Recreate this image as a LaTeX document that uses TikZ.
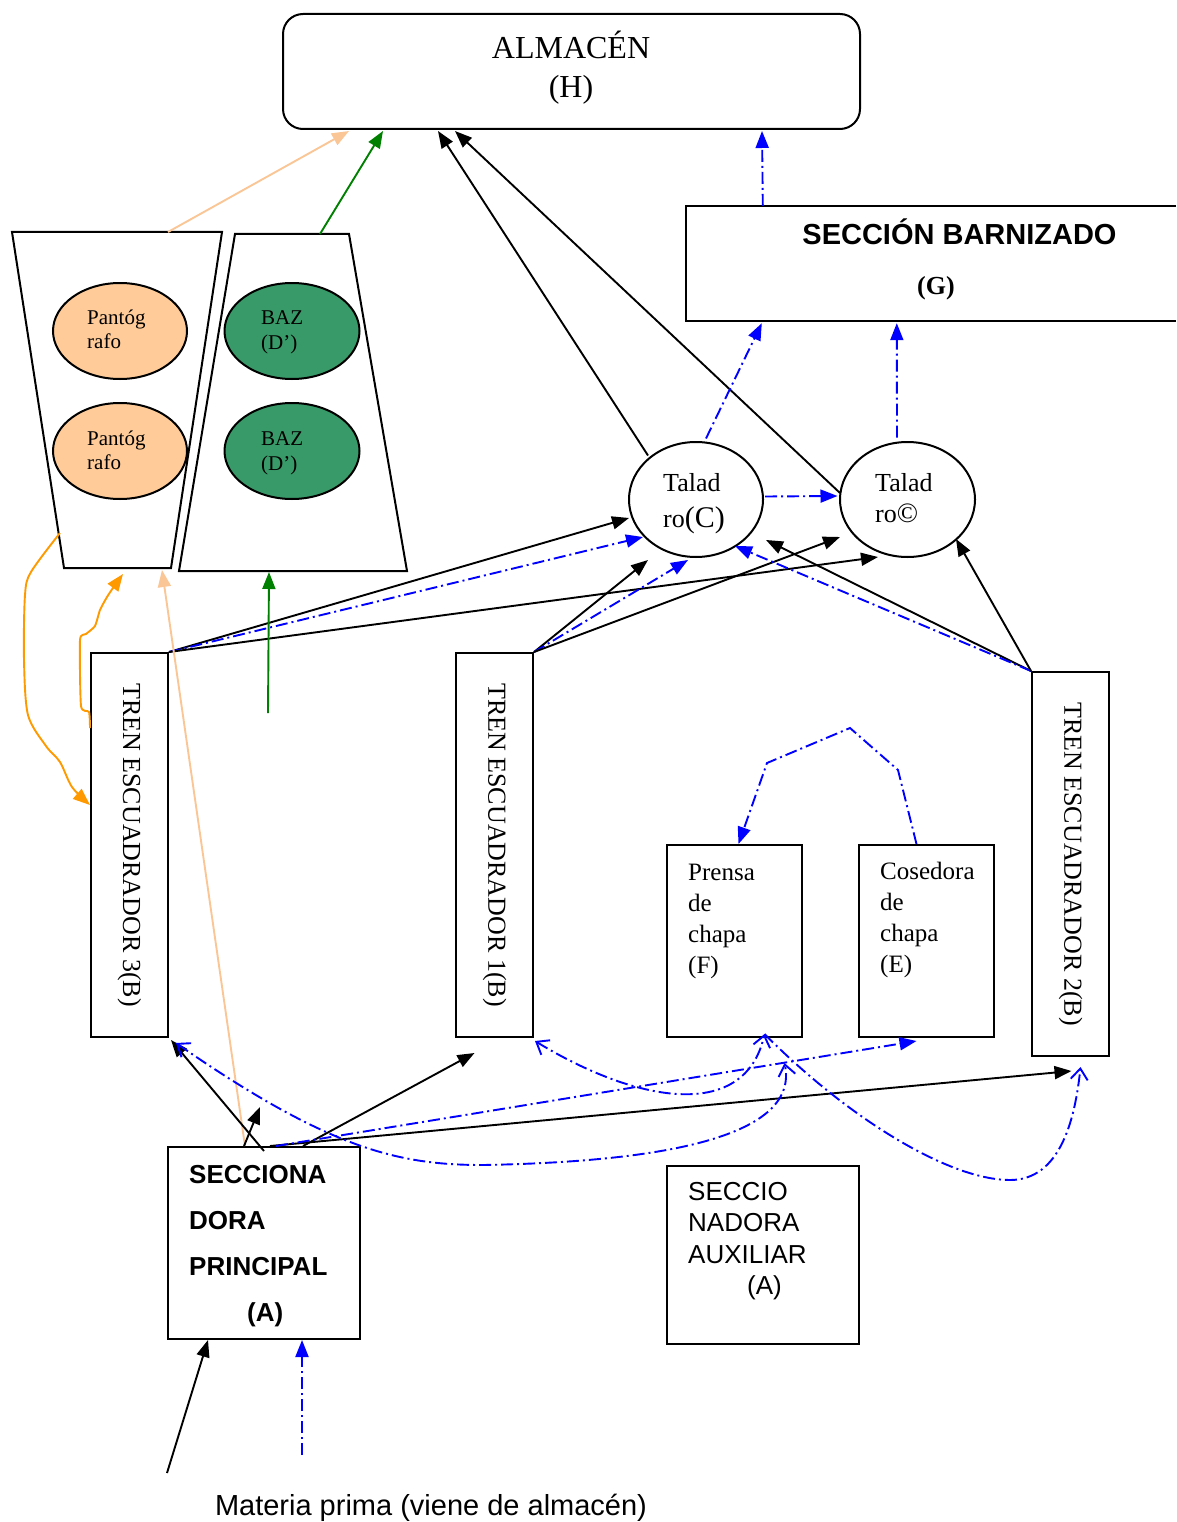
\documentclass[tikz,border=0pt]{standalone}
\usepackage{fontspec}
\setmainfont{Liberation Serif}
\setsansfont{Liberation Sans}
\usetikzlibrary{arrows.meta,calc,shapes.geometric}
\definecolor{peach}{RGB}{250,198,150}
\definecolor{pfill}{RGB}{255,204,153}
\definecolor{orng}{RGB}{255,153,0}
\definecolor{grn}{RGB}{0,128,0}
\definecolor{bazfill}{RGB}{56,154,104}
\definecolor{blu}{RGB}{0,0,255}
\begin{document}
\begin{tikzpicture}[x=1pt,y=-1pt,
  box/.style={draw,line width=2pt,inner sep=0pt},
  ell/.style={draw,ellipse,line width=2pt,inner sep=0pt},
  tip/.style={-{Triangle[length=17pt,width=13pt]}},
  conn/.style={line width=1.9pt,tip},
  pconn/.style={line width=1.9pt,peach,tip},
  gconn/.style={line width=1.9pt,grn,tip},
  oconn/.style={line width=1.9pt,orng,tip},
  bdash/.style={line width=1.9pt,blu,dash pattern=on 12pt off 4pt on 2pt off 4pt},
  bconn/.style={bdash,tip},
  bopen/.style={bdash,-{Straight Barb[length=11pt,width=17pt]}},
  bopentwo/.style={bdash,{Straight Barb[length=11pt,width=17pt]}-{Straight Barb[length=11pt,width=17pt]}},
  lbl/.style={inner sep=0pt,align=left,anchor=base west}
]
\useasboundingbox (0,0) rectangle (1176,1522);

% ---------- ALMACEN ----------
\node[box,rounded corners=20pt,minimum width=577pt,minimum height=115pt] (H) at (571.5,71.5) {};
\node[inner sep=0pt,anchor=base,font=\fontsize{32}{38}\selectfont] (Ht1) at (571,59) {ALMACÉN};
\node[inner sep=0pt,anchor=base,font=\fontsize{32}{38}\selectfont] (Ht2) at (571,98) {(H)};

% ---------- SECCION BARNIZADO ----------
\node[inner sep=0pt,minimum width=490pt,minimum height=115pt] (G) at (931,263.5) {};
\draw[line width=2pt] (G.north east) -- (G.north west) -- (G.south west) -- (G.south east);
\node[inner sep=0pt,anchor=base,font=\sffamily\bfseries\fontsize{29}{34}\selectfont] (Gt1) at (959.5,244) {SECCIÓN BARNIZADO};
\node[inner sep=0pt,anchor=base,font=\bfseries\fontsize{26}{30}\selectfont] (Gt2) at (936,294) {(G)};

% ---------- trapezoids ----------
\draw[line width=2pt] (12,232) -- (222,232) -- (171,568) -- (64,568) -- cycle;
\draw[line width=2pt] (235,234) -- (349,234) -- (407,571) -- (179,571) -- cycle;
\coordinate (ltTop) at (168,232);
\coordinate (rtTop) at (320,234);
\coordinate (ltBot) at (162,570);
\coordinate (rtBot) at (269,572);
\coordinate (ltSide) at (60,533);

% ---------- ellipses ----------
\node[ell,fill=pfill,minimum width=134pt,minimum height=96pt] (P1) at (120,331) {};
\node[ell,fill=pfill,minimum width=134pt,minimum height=96pt] (P2) at (120,451) {};
\node[ell,fill=bazfill,minimum width=135pt,minimum height=96pt] (B1) at (292,331) {};
\node[ell,fill=bazfill,minimum width=135pt,minimum height=96pt] (B2) at (292,451) {};
\node[lbl,font=\fontsize{21}{24}\selectfont] (P1t) at (87,348) {Pantóg\\rafo};
\node[lbl,font=\fontsize{21}{24}\selectfont] (P2t) at (87,469) {Pantóg\\rafo};
\node[lbl,font=\fontsize{21}{25}\selectfont] (B1t) at (261,349) {BAZ\\(D’)};
\node[lbl,font=\fontsize{21}{25}\selectfont] (B2t) at (261,470) {BAZ\\(D’)};

\node[ell,minimum width=134pt,minimum height=115pt] (TC) at (696,499.5) {};
\node[ell,minimum width=135pt,minimum height=115pt] (TR) at (907.5,499.5) {};
\node[lbl,font=\fontsize{26}{36}\selectfont] (TCt) at (663,527) {Talad\\ro{\fontsize{30}{36}\selectfont(C)}};
\node[lbl,font=\fontsize{26}{31}\selectfont] (TRt) at (875,522) {Talad\\ro{\fontsize{28}{31}\selectfont©}};

% ---------- tren escuadrador ----------
\node[box,minimum width=77pt,minimum height=384pt] (T3) at (129.5,845) {};
\node[box,minimum width=77pt,minimum height=384pt] (T1) at (494.5,845) {};
\node[box,minimum width=77pt,minimum height=384pt] (T2) at (1070.5,864) {};
\node[inner sep=0pt,rotate=-90,font=\fontsize{26}{30}\selectfont] (T3t) at (T3) {TREN ESCUADRADOR 3(B)};
\node[inner sep=0pt,rotate=-90,font=\fontsize{26}{30}\selectfont] (T1t) at (T1) {TREN ESCUADRADOR 1(B)};
\node[inner sep=0pt,rotate=-90,font=\fontsize{26}{30}\selectfont] (T2t) at (T2) {TREN ESCUADRADOR 2(B)};

% ---------- prensa / cosedora ----------
\node[box,minimum width=135pt,minimum height=192pt] (F) at (734.5,941) {};
\node[box,minimum width=135pt,minimum height=192pt] (E) at (926.5,941) {};
\node[lbl,font=\fontsize{25}{31}\selectfont] (Ft) at (688,973) {Prensa\\de\\chapa\\(F)};
\node[lbl,font=\fontsize{25}{31}\selectfont] (Et) at (880,972) {Cosedora\\de\\chapa\\(E)};

% ---------- seccionadoras ----------
\node[box,minimum width=192pt,minimum height=192pt] (SA) at (264,1243) {};
\node[lbl,font=\sffamily\bfseries\fontsize{26}{46}\selectfont] (SAt) at (189,1321) {SECCIONA\\DORA\\PRINCIPAL\\\hspace*{58pt}(A)};
\node[box,minimum width=192pt,minimum height=178pt] (SX) at (763,1255) {};
\node[lbl,font=\sffamily\fontsize{26}{31.5}\selectfont] (SXt) at (688,1294.5) {SECCIO\\NADORA\\AUXILIAR\\\hspace*{59pt}(A)};

\node[inner sep=0pt,anchor=base,font=\sffamily\fontsize{29}{33}\selectfont] (MP) at (431,1515) {Materia prima (viene de almacén)};

% ---------- connectors to ALMACEN / G ----------
\draw[pconn] (ltTop) -- ($(H.south west)+(67,1)$);
\draw[gconn] (rtTop) -- ($(H.south west)+(101,1)$);
\draw[conn] ($(TC)+(-48,-44)$) -- ($(H.south west)+(156,1)$);
\draw[conn] ($(TR)+(-67.5,-6.5)$) -- ($(H.south west)+(173,1)$);
\draw[bconn] ($(G.north west)+(77,0)$) -- ($(H.south west)+(480,1)$);
\draw[bconn] ($(TC)+(10,-61)$) -- ($(G.south west)+(76,2)$);
\draw[bconn] ($(TR)+(-10.5,-62)$) -- ($(G.south west)+(211,2)$);
\draw[bconn] ($(TC)+(69,-3)$) -- ($(TR)+(-70,-3.5)$);

% ---------- tren -> taladros ----------
\draw[conn] (T3.north east) -- ($(TC)+(-67,18.5)$);
\draw[bconn] (T3.north east) -- ($(TC)+(-53,37.5)$);
\draw[conn] (T3.north east) -- ($(TR)+(-29.5,57.5)$);
\draw[conn] (T1.north east) -- ($(TC)+(-48,60.5)$);
\draw[bconn] (T1.north east) -- ($(TC)+(-8,60.5)$);
\draw[conn] (T1.north east) -- ($(TR)+(-67.5,37.5)$);
\draw[conn] (T2.north west) -- ($(TC)+(70,40.5)$);
\draw[bconn] (T2.north west) -- ($(TC)+(39,46.5)$);
\draw[conn] (T2.north west) -- ($(TR)+(48.5,39.5)$);

% ---------- green / orange ----------
\coordinate (g0) at (268,713);
\draw[gconn] (g0) -- (rtBot);
\coordinate (o1e) at ($(T3.west)+(0,-40)$);
\coordinate (o2s) at ($(T3.west)+(0,-117)$);
\coordinate (o2e) at (123,574);
\draw[oconn] plot[smooth,tension=0.5] coordinates {(ltSide) (31,572) (25,595) (24,660) (28,715) (46,746) (60,762) (72,787) (o1e)};
\draw[oconn] plot[smooth,tension=0.35] coordinates {(o2s) (89,712) (81,706) (80,640) (86,634) (95,626) (100,610) (107,597) (115,585) (o2e)};

% ---------- from seccionadora principal ----------
\draw[pconn] ($(SA.north)+(-19,0)$) -- (ltBot);
\draw[conn] ($(SA.north)+(0,5)$) -- ($(T3.south east)+(2,2)$);
\coordinate (s16) at (260,1107);
\draw[conn] ($(SA.north)+(-20,0)$) -- (s16);
\draw[conn] ($(SA.north)+(39,0)$) -- ($(T1.south)+(-20,15)$);
\draw[conn] ($(SA.north)+(6,0)$) -- ($(T2.south)+(1,14)$);
\draw[bconn] ($(SA.north)+(12,0)$) -- ($(E.south)+(-10,3)$);

% ---------- blue curves ----------
\draw[bopentwo] ($(T3.south east)+(7,5)$) .. controls (330,1150) and (400,1165) .. (483,1165) .. controls (650,1162) and (800,1140) .. ($(F.south)+(50,25)$);
\draw[bopentwo] ($(T1.south east)+(1,3)$) .. controls (640,1105) and (745,1120) .. ($(F.south)+(30,-4)$);
\draw[bopen] ($(F.south)+(30,-4)$) .. controls (850,1120) and (950,1180) .. (1010,1180) .. controls (1060,1180) and (1075,1120) .. ($(T2.south)+(10,10)$);
\draw[bconn] ($(E.north)+(-10,0)$) -- (898,770) -- (850,728) -- (767,763) -- ($(F.north)+(4,0)$);

% ---------- inputs ----------
\coordinate (b0) at (302,1455);
\draw[bconn] (b0) -- ($(SA.south)+(38,0)$);
\coordinate (k0) at (167,1473);
\draw[conn] (k0) -- ($(SA.south)+(-56,0)$);
\end{tikzpicture}
\end{document}
